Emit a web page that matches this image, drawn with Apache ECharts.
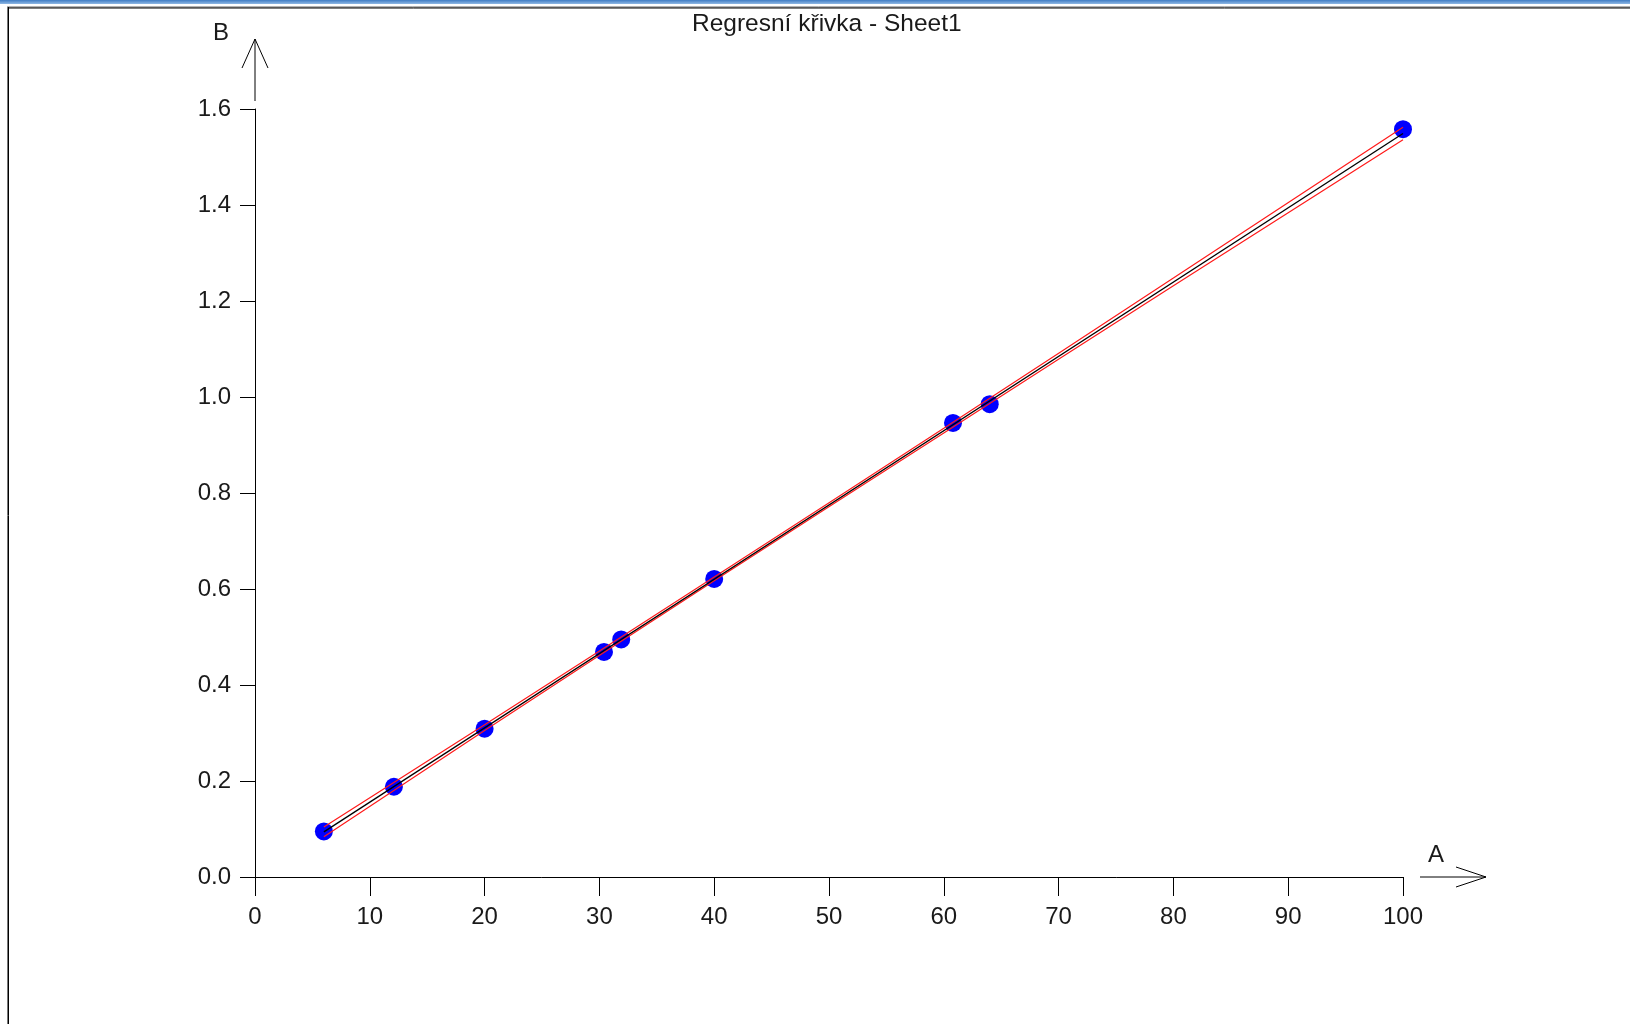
<!DOCTYPE html>
<html>
<head>
<meta charset="utf-8">
<script src="https://cdn.jsdelivr.net/npm/echarts@6/dist/echarts.min.js"></script>
<style>
html,body{margin:0;padding:0;background:#fff;}
#main{width:1630px;height:1024px;}
</style>
</head>
<body>
<div id="main"></div>
<script>
// ---- data ----
const titleText = 'Regresní křivka - Sheet1';
const xName = 'A';
const yName = 'B';
const xTicks = [0, 10, 20, 30, 40, 50, 60, 70, 80, 90, 100];
const yTicks = ['0.0', '0.2', '0.4', '0.6', '0.8', '1.0', '1.2', '1.4', '1.6'];
const pointsX = [6, 12.1, 20, 30.4, 31.9, 40, 60.8, 64, 100];
const pointsY = [0.095, 0.188, 0.309, 0.469, 0.495, 0.621, 0.946, 0.985, 1.558];
const regX = [6, 100];
const regY = [0.094, 1.549];
const bandX = [6, 20, 40, 60, 80, 100];
const bandUpper = [0.104, 0.317, 0.625, 0.935, 1.248, 1.562];
const bandLower = [0.084, 0.305, 0.617, 0.925, 1.232, 1.536];

const FONT = '"Liberation Sans", Arial, sans-serif';
const TXT = '#1a1a1a';

const zip = (a, b) => a.map((v, i) => [v, b[i]]);

const chart = echarts.init(document.getElementById('main'), null, {renderer: 'canvas'});
const option = {
  animation: false,
  backgroundColor: '#ffffff',
  textStyle: {fontFamily: FONT},
  title: {
    text: titleText,
    left: 692, top: 12, padding: 0,
    textStyle: {fontFamily: FONT, fontSize: 24.5, fontWeight: 'normal', color: TXT}
  },
  grid: {left: 255, right: 227, top: 109, bottom: 147, containLabel: false},
  xAxis: {
    type: 'value', min: xTicks[0], max: xTicks[xTicks.length - 1], interval: 10,
    axisLine: {show: true, onZero: false, lineStyle: {color: '#000', width: 1}},
    axisTick: {show: true, length: 19, lineStyle: {color: '#000', width: 1}},
    axisLabel: {margin: 28, fontFamily: FONT, fontSize: 24, color: TXT},
    splitLine: {show: false}
  },
  yAxis: {
    type: 'value', min: 0, max: 1.6, interval: 0.2,
    axisLine: {show: true, onZero: false, lineStyle: {color: '#000', width: 1}},
    axisTick: {show: true, length: 15, lineStyle: {color: '#000', width: 1}},
    axisLabel: {margin: 24, fontFamily: FONT, fontSize: 24, color: TXT,
      formatter: (v) => yTicks[Math.round(v / 0.2)] || v.toFixed(1)},
    splitLine: {show: false}
  },
  series: [
    {
      type: 'scatter', z: 1, data: zip(pointsX, pointsY),
      symbol: 'circle', symbolSize: 18,
      itemStyle: {color: '#0000ff', opacity: 1}
    },
    {
      type: 'line', z: 3, data: zip(bandX, bandUpper), symbol: 'none', smooth: true,
      lineStyle: {color: '#ff1a1a', width: 1.2}
    },
    {
      type: 'line', z: 3, data: zip(bandX, bandLower), symbol: 'none', smooth: true,
      lineStyle: {color: '#ff1a1a', width: 1.2}
    },
    {
      type: 'line', z: 4, data: zip(regX, regY), symbol: 'none',
      lineStyle: {color: '#000', width: 1.3}
    }
  ]
};
chart.setOption(option);

// decorations placed from the axis scales
const o = chart.convertToPixel({gridIndex: 0}, [0, 0]);
const yTop = chart.convertToPixel({gridIndex: 0}, [0, 1.6])[1];
const xRight = chart.convertToPixel({gridIndex: 0}, [100, 0])[0];
const ax = o[0], ay = o[1];
const ls = {stroke: '#000', lineWidth: 1};
chart.setOption({
  graphic: [
    // window frame
    {type: 'rect', shape: {x: 0, y: 0, width: 1630, height: 4},
      style: {fill: new echarts.graphic.LinearGradient(0, 0, 0, 1, [
        {offset: 0, color: '#3f7cc4'}, {offset: 1, color: '#8fb8e4'}])}},
    {type: 'line', shape: {x1: 7, y1: 7, x2: 1630, y2: 7}, style: {stroke: '#666', lineWidth: 1}},
    {type: 'line', shape: {x1: 8, y1: 8, x2: 1630, y2: 8}, style: {stroke: '#000', lineWidth: 1}},
    {type: 'line', shape: {x1: 7.5, y1: 7, x2: 7.5, y2: 1024}, style: {stroke: '#777', lineWidth: 1}},
    {type: 'line', shape: {x1: 8.5, y1: 7, x2: 8.5, y2: 1024}, style: {stroke: '#000', lineWidth: 1}},
    // y arrow
    {type: 'line', shape: {x1: ax, y1: yTop - 8, x2: ax, y2: yTop - 70}, style: ls},
    {type: 'polyline', shape: {points: [[ax - 13, yTop - 41], [ax, yTop - 70], [ax + 13, yTop - 41]]}, style: {stroke: '#000', lineWidth: 1, fill: null}},
    // x arrow
    {type: 'line', shape: {x1: xRight + 17, y1: ay, x2: xRight + 83, y2: ay}, style: ls},
    {type: 'polyline', shape: {points: [[xRight + 53, ay - 10], [xRight + 83, ay], [xRight + 53, ay + 10]]}, style: {stroke: '#000', lineWidth: 1, fill: null}},
    // axis names
    {type: 'text', x: ax - 34, y: yTop - 76,
      style: {text: yName, font: '24px ' + FONT, fill: TXT, align: 'center', verticalAlign: 'middle'}},
    {type: 'text', x: xRight + 33, y: ay - 22,
      style: {text: xName, font: '24px ' + FONT, fill: TXT, align: 'center', verticalAlign: 'middle'}}
  ]
});
</script>
</body>
</html>
